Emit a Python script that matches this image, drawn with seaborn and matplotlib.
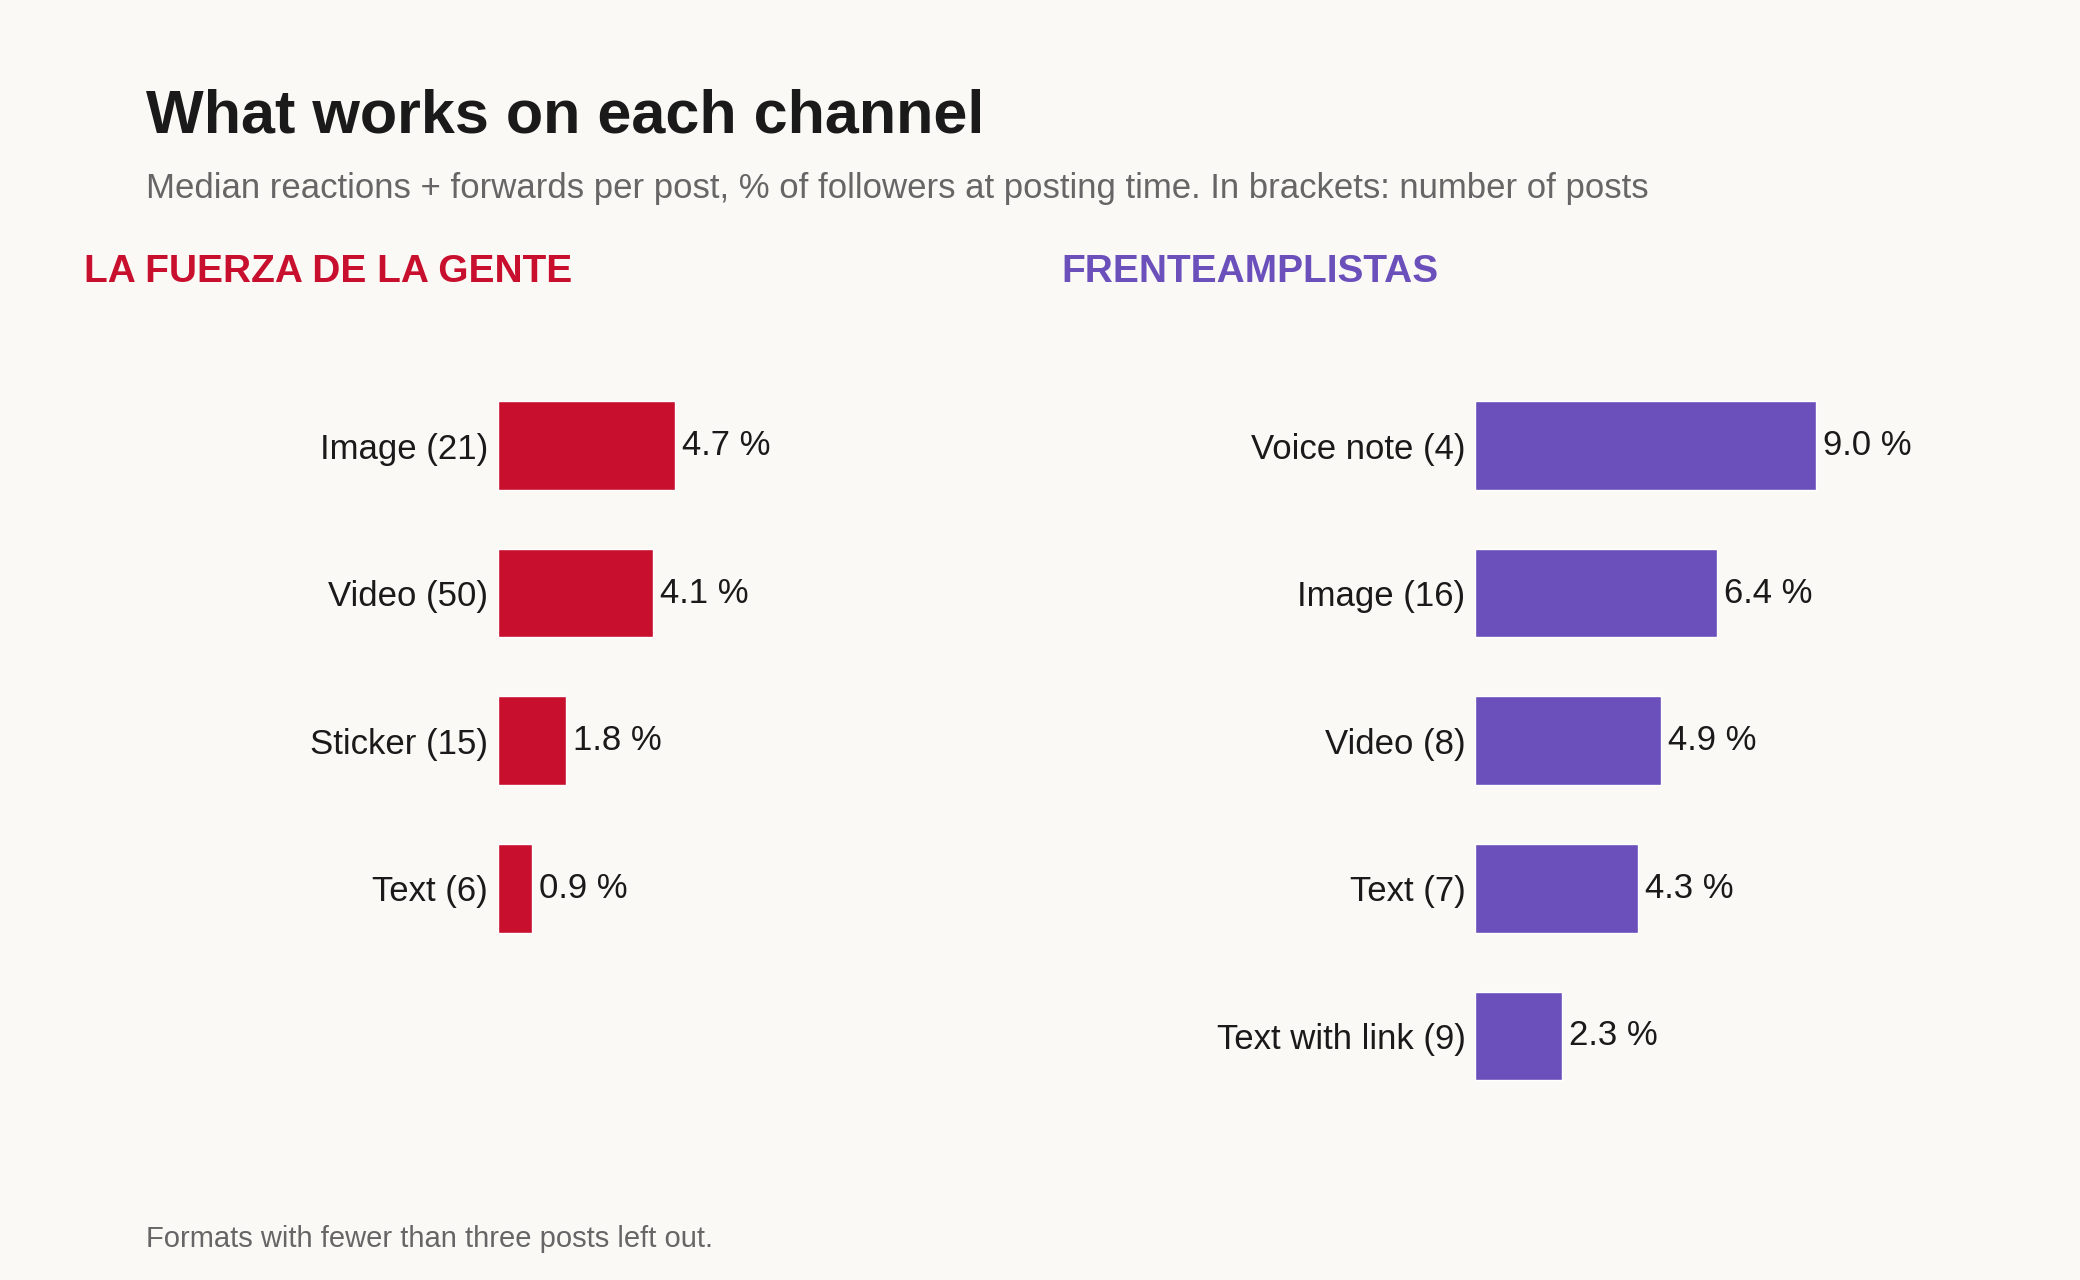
import matplotlib
matplotlib.use("Agg")
import matplotlib.pyplot as plt
import seaborn as sns
import pandas as pd

# === Данные ===
left_name = "LA FUERZA DE LA GENTE"
left_formats = ["Image", "Video", "Sticker", "Text"]
left_posts = [21, 50, 15, 6]
left_values = [4.7, 4.1, 1.8, 0.9]

right_name = "FRENTEAMPLISTAS"
right_formats = ["Voice note", "Image", "Video", "Text", "Text with link"]
right_posts = [4, 16, 8, 7, 9]
right_values = [9.0, 6.4, 4.9, 4.3, 2.3]

RED = "#C8102E"
PURPLE = "#6B4FBB"
BG = "#FAF9F6"
DARK = "#1A1A1A"
GREY = "#666666"


def main():
    sns.set_theme(style="white")
    plt.rcParams["font.family"] = ["Liberation Sans", "DejaVu Sans"]

    fig = plt.figure(figsize=(20.8, 12.8), dpi=100, facecolor=BG)

    panels = [
        (left_name, left_formats, left_posts, left_values, RED, 0.2393, 0.0402),
        (right_name, right_formats, right_posts, right_values, PURPLE, 0.7093, 0.5101),
    ]
    n_rows = max(len(left_formats), len(right_formats))

    for name, formats, posts, values, color, ax_left, head_x in panels:
        df = pd.DataFrame({
            "label": [f"{f} ({n})" for f, n in zip(formats, posts)],
            "value": values,
        })
        ax = fig.add_axes([ax_left, 0.133, 0.2, 0.5766])
        ax.set_facecolor(BG)
        sns.barplot(data=df, x="value", y="label", orient="h", color=color,
                    width=0.6, saturation=1, ax=ax)
        ax.set_xlim(0, 11)
        ax.set_ylim(n_rows - 0.5, -0.5)
        ax.bar_label(ax.containers[0], labels=[f"{v:.1f} %" for v in values],
                     padding=5, fontsize=25, color=DARK)
        ax.set_xlabel("")
        ax.set_ylabel("")
        ax.set_xticks([])
        ax.tick_params(axis="y", length=0, pad=7, labelsize=25, labelcolor=DARK)
        sns.despine(ax=ax, left=True, bottom=True)

        fig.text(head_x, 0.7795, name, fontsize=28, fontweight="bold",
                 color=color, va="baseline", ha="left")

    fig.text(0.0702, 0.8968, "What works on each channel", fontsize=44,
             fontweight="bold", color=DARK, va="baseline", ha="left")
    fig.text(0.0702, 0.8456,
             "Median reactions + forwards per post, % of followers at posting time. "
             "In brackets: number of posts",
             fontsize=25, color=GREY, va="baseline", ha="left")
    fig.text(0.0702, 0.0258, "Formats with fewer than three posts left out.",
             fontsize=21, color=GREY, va="baseline", ha="left")

    fig.savefig("out.png", dpi=100, facecolor=BG)
    plt.close(fig)


if __name__ == "__main__":
    main()
